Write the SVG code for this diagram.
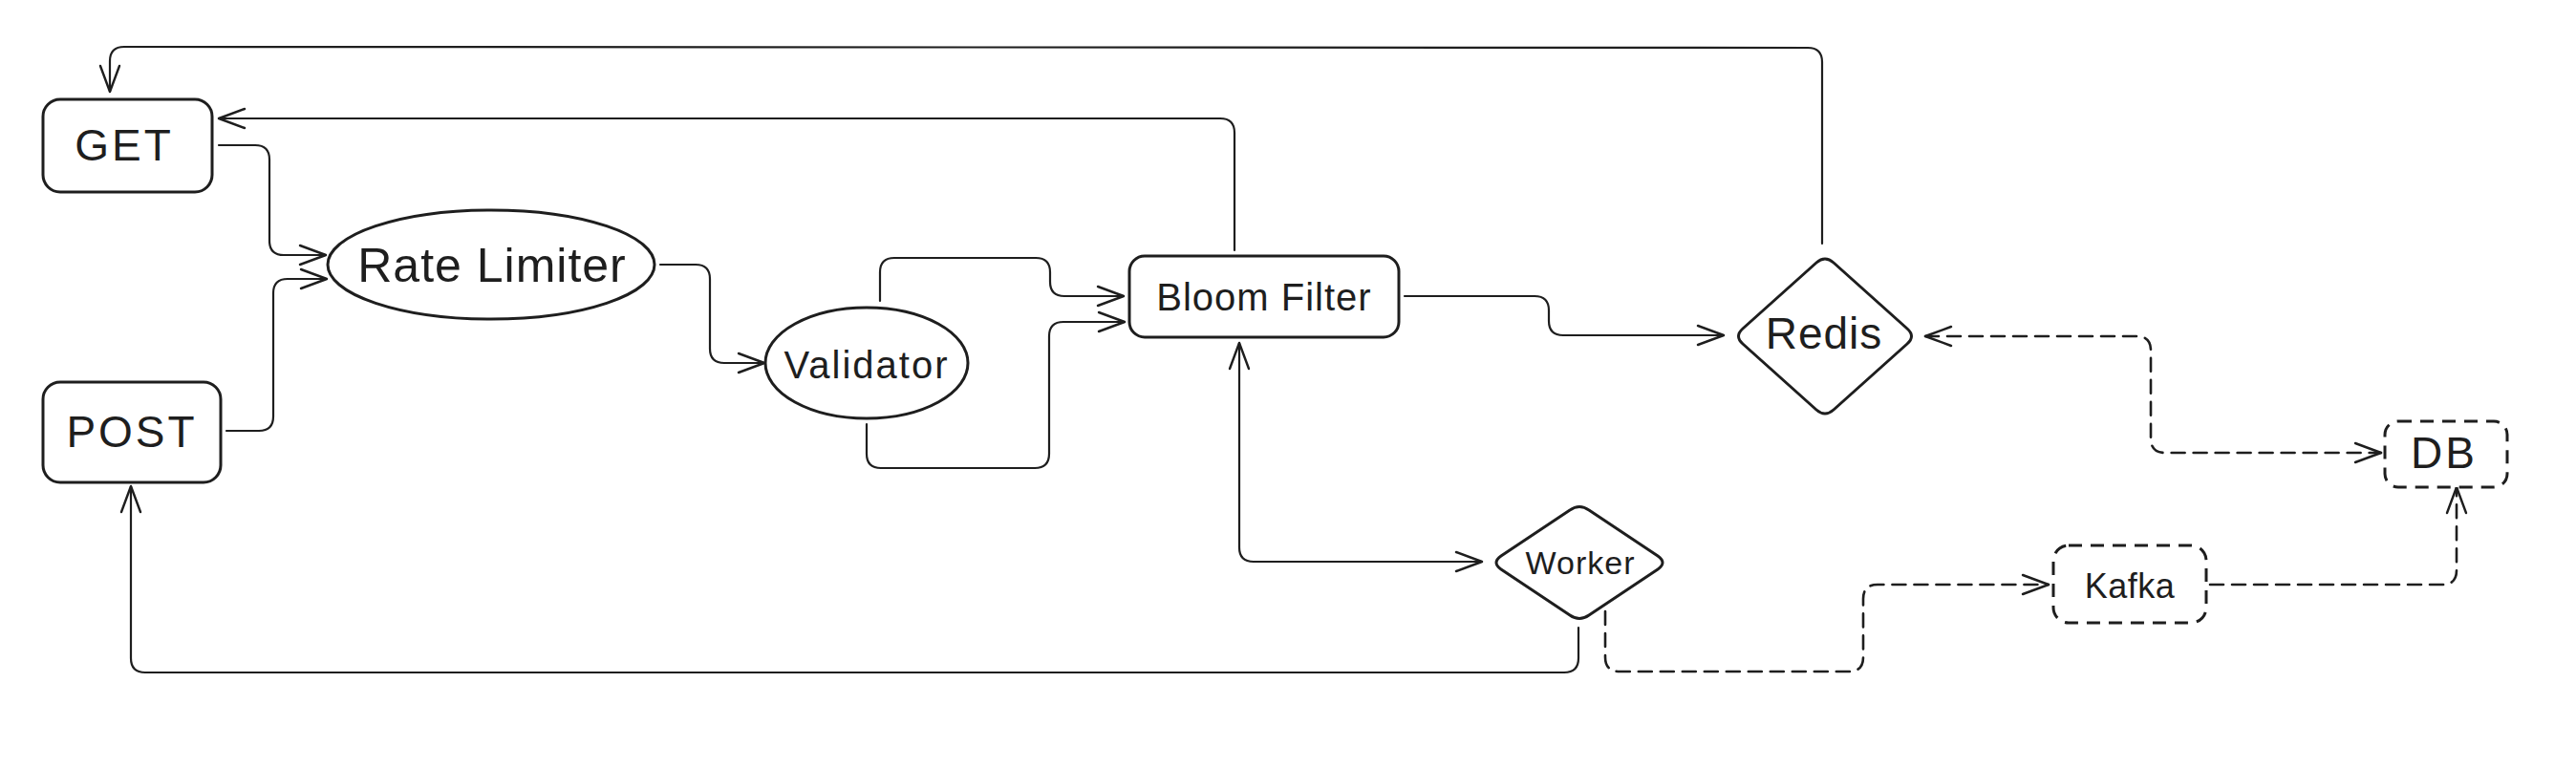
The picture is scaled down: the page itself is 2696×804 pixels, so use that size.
<svg xmlns="http://www.w3.org/2000/svg" width="2696" height="804" viewBox="0 0 2696 804">
<defs>
<style>
.node{fill:#ffffff;stroke:#1e1e1e;stroke-width:3;}
.dash{stroke-dasharray:14 9;}
.edge{fill:none;stroke:#1e1e1e;stroke-width:2.2;stroke-linecap:round;stroke-linejoin:round;}
.edash{stroke-dasharray:14 9;stroke-width:2.6;}
.lbl{font-family:"Liberation Sans","DejaVu Sans",sans-serif;fill:#1e1e1e;text-anchor:middle;}
</style>
<marker id="arr" markerUnits="userSpaceOnUse" viewBox="0 0 32 24" markerWidth="32" markerHeight="24" refX="29" refY="12" orient="auto-start-reverse">
<path d="M 2 2 L 29 12 L 2 22" fill="none" stroke="#1e1e1e" stroke-width="2.4" stroke-linecap="round" stroke-linejoin="round" stroke-dasharray="none"/>
</marker>
</defs>
<rect width="2696" height="804" fill="#ffffff"/>
<g id="connectors">
<path class="edge" d="M 229 152 L 267 152 Q 282 152 282 167 L 282 252 Q 282 267 297 267 L 341 267" marker-end="url(#arr)"/>
<path class="edge" d="M 237 451 L 271 451 Q 286 451 286 436 L 286 307 Q 286 292 301 292 L 342 292" marker-end="url(#arr)"/>
<path class="edge" d="M 691 277 L 728 277 Q 743 277 743 292 L 743 365 Q 743 380 758 380 L 800 380" marker-end="url(#arr)"/>
<path class="edge" d="M 921 315 L 921 285 Q 921 270 936 270 L 1084 270 Q 1099 270 1099 285 L 1099 295 Q 1099 310 1114 310 L 1176 310" marker-end="url(#arr)"/>
<path class="edge" d="M 907 444 L 907 475 Q 907 490 922 490 L 1083 490 Q 1098 490 1098 475 L 1098 352 Q 1098 337 1113 337 L 1177 337" marker-end="url(#arr)"/>
<path class="edge" d="M 1292 262 L 1292 139 Q 1292 124 1277 124 L 229 124" marker-end="url(#arr)"/>
<path class="edge" d="M 1907 255 L 1907 65 Q 1907 50 1892 50 L 130 49 Q 115 49 115 64 L 115 96" marker-end="url(#arr)"/>
<path class="edge" d="M 1470 310 L 1606 310 Q 1621 310 1621 325 L 1621 336 Q 1621 351 1636 351 L 1804 351" marker-end="url(#arr)"/>
<path class="edge" d="M 1297 359 L 1297 573 Q 1297 588 1312 588 L 1551 588" marker-start="url(#arr)" marker-end="url(#arr)"/>
<path class="edge" d="M 1652 657 L 1652 689 Q 1652 704 1637 704 L 152 704 Q 137 704 137 689 L 137 509" marker-end="url(#arr)"/>
<path class="edge edash" d="M 1680 640 L 1680 688 Q 1680 703 1695 703 L 1935 703 Q 1950 703 1950 688 L 1950 627 Q 1950 612 1965 612 L 2144 612" marker-end="url(#arr)"/>
<path class="edge edash" d="M 2015 352 L 2236 352 Q 2251 352 2251 367 L 2251 459 Q 2251 474 2266 474 L 2492 474" marker-start="url(#arr)" marker-end="url(#arr)"/>
<path class="edge edash" d="M 2313 612 L 2556 612 Q 2571 612 2571 597 L 2571 510" marker-end="url(#arr)"/>
</g>
<g id="node-get">
<rect class="node" x="45" y="104" width="177" height="97" rx="18"/>
<text class="lbl" x="130" y="168" font-size="46" letter-spacing="3">GET</text>
</g>
<g id="node-post">
<rect class="node" x="45" y="400" width="186" height="105" rx="18"/>
<text class="lbl" x="138" y="468" font-size="46" letter-spacing="3">POST</text>
</g>
<g id="node-rate-limiter">
<ellipse class="node" cx="514" cy="277" rx="171" ry="57"/>
<text class="lbl" x="515" y="295" font-size="50" letter-spacing="1">Rate Limiter</text>
</g>
<g id="node-validator">
<ellipse class="node" cx="907" cy="380" rx="106" ry="58"/>
<text class="lbl" x="907" y="396" font-size="40" letter-spacing="2">Validator</text>
</g>
<g id="node-bloom-filter">
<rect class="node" x="1182" y="268" width="282" height="85" rx="16"/>
<text class="lbl" x="1323" y="325" font-size="40" letter-spacing="1">Bloom Filter</text>
</g>
<g id="node-redis">
<path class="node" d="M 1919 275 L 1996 344 Q 2005 352 1996 360 L 1919 429 Q 1910 437 1901 429 L 1824 360 Q 1815 352 1824 344 L 1901 275 Q 1910 267 1919 275 Z"/>
<text class="lbl" x="1909" y="365" font-size="46" letter-spacing="1">Redis</text>
</g>
<g id="node-worker">
<path class="node" d="M 1663 534 L 1735 582 Q 1745 589 1735 596 L 1663 644 Q 1653 651 1643 644 L 1571 596 Q 1561 589 1571 582 L 1643 534 Q 1653 527 1663 534 Z"/>
<text class="lbl" x="1654" y="601" font-size="34" letter-spacing="1">Worker</text>
</g>
<g id="node-kafka">
<rect class="node dash" x="2149" y="571" width="160" height="81" rx="16"/>
<text class="lbl" x="2229" y="626" font-size="36" letter-spacing="0.5">Kafka</text>
</g>
<g id="node-db">
<rect class="node dash" x="2496" y="441" width="128" height="69" rx="14"/>
<text class="lbl" x="2558" y="490" font-size="46" letter-spacing="3">DB</text>
</g>
</svg>
